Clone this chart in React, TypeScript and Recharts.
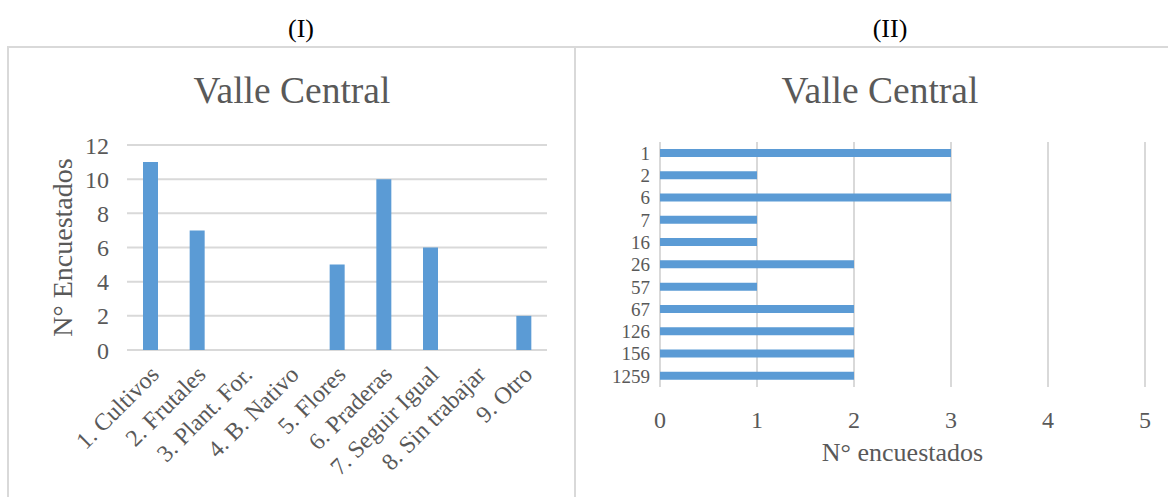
import React from 'react';
import { BarChart, Bar, XAxis, YAxis, CartesianGrid } from 'recharts';

const leftCategories = ['1. Cultivos', '2. Frutales', '3. Plant. For.', '4. B. Nativo', '5. Flores', '6. Praderas', '7. Seguir Igual', '8. Sin trabajar', '9. Otro'];
const leftValues = [11, 7, 0, 0, 5, 10, 6, 0, 2];
const leftTicks = [0, 2, 4, 6, 8, 10, 12];

const rightCategories = ['1', '2', '6', '7', '16', '26', '57', '67', '126', '156', '1259'];
const rightValues = [3, 1, 3, 1, 1, 2, 1, 2, 2, 2, 2];
const rightTicks = [0, 1, 2, 3, 4, 5];

const leftData = leftCategories.map((c, i) => ({ name: c, value: leftValues[i] }));
const rightData = rightCategories.map((c, i) => ({ name: c, value: rightValues[i] }));

const FONT = '"Liberation Serif", "Times New Roman", serif';
const GREY = '#595959';
const GRID = '#d9d9d9';
const BLUE = '#5b9bd5';

const RotTick = (props: any) => {
  const { x, y, payload } = props;
  const ax = x + 10;
  const ay = y + 18;
  return (
    <text x={ax} y={ay} transform={`rotate(-45, ${ax}, ${ay})`} textAnchor="end" fill={GREY} fontSize={24} fontFamily={FONT}>
      {payload.value}
    </text>
  );
};

export default function App() {
  return (
    <div style={{ position: 'absolute', left: 0, top: 0, width: 1169, height: 497, background: '#fff', fontFamily: FONT, overflow: 'hidden' }}>
      <div style={{ position: 'absolute', left: 0, top: 16, width: 602, textAlign: 'center', fontSize: 26, lineHeight: '26px', color: '#000' }}>(I)</div>
      <div style={{ position: 'absolute', left: 590, top: 16, width: 600, textAlign: 'center', fontSize: 26, lineHeight: '26px', color: '#000' }}>(II)</div>

      <div style={{ position: 'absolute', left: 7, top: 46, width: 1161, height: 2, background: GRID }} />
      <div style={{ position: 'absolute', left: 7, top: 46, width: 2, height: 460, background: GRID }} />
      <div style={{ position: 'absolute', left: 574, top: 46, width: 2, height: 460, background: GRID }} />

      <div style={{ position: 'absolute', left: 0, top: 72, width: 584, textAlign: 'center', fontSize: 37.5, lineHeight: '37.5px', color: GREY }}>Valle Central</div>
      <div style={{ position: 'absolute', left: 580, top: 72, width: 600, textAlign: 'center', fontSize: 37.5, lineHeight: '37.5px', color: GREY }}>Valle Central</div>

      <div style={{ position: 'absolute', left: 0, top: 0 }}>
        <BarChart width={575} height={497} data={leftData} margin={{ top: 145, right: 28, bottom: 0, left: 0 }}>
          <CartesianGrid vertical={false} stroke={GRID} strokeWidth={2} />
          <XAxis dataKey="name" type="category" height={147} axisLine={false} tickLine={false} interval={0} tick={<RotTick />} />
          <YAxis
            type="number"
            domain={[0, 12]}
            ticks={leftTicks}
            width={127}
            axisLine={false}
            tickLine={false}
            tickMargin={12}
            tick={{ fill: GREY, fontSize: 24, fontFamily: FONT }}
            label={{ value: 'N° Encuestados', angle: -90, position: 'insideLeft', offset: 62, style: { textAnchor: 'middle', fill: GREY, fontSize: 28, fontFamily: FONT } }}
          />
          <Bar dataKey="value" fill={BLUE} barSize={15} isAnimationActive={false} />
        </BarChart>
      </div>

      <div style={{ position: 'absolute', left: 575, top: 0 }}>
        <BarChart width={594} height={497} data={rightData} layout="vertical" margin={{ top: 142, right: 24, bottom: 0, left: 0 }}>
          <CartesianGrid horizontal={false} stroke={GRID} strokeWidth={2} />
          <XAxis
            type="number"
            domain={[0, 5]}
            ticks={rightTicks}
            height={110}
            axisLine={false}
            tickLine={false}
            tickMargin={18}
            tick={{ fill: GREY, fontSize: 24, fontFamily: FONT }}
            label={{ value: 'N° encuestados', position: 'insideBottom', offset: 36, style: { fill: GREY, fontSize: 26, fontFamily: FONT } }}
          />
          <YAxis
            type="category"
            dataKey="name"
            width={85}
            axisLine={false}
            tickLine={false}
            tickMargin={4}
            interval={0}
            tick={{ fill: GREY, fontSize: 19, fontFamily: FONT }}
          />
          <Bar dataKey="value" fill={BLUE} barSize={8} isAnimationActive={false} />
        </BarChart>
      </div>
    </div>
  );
}
